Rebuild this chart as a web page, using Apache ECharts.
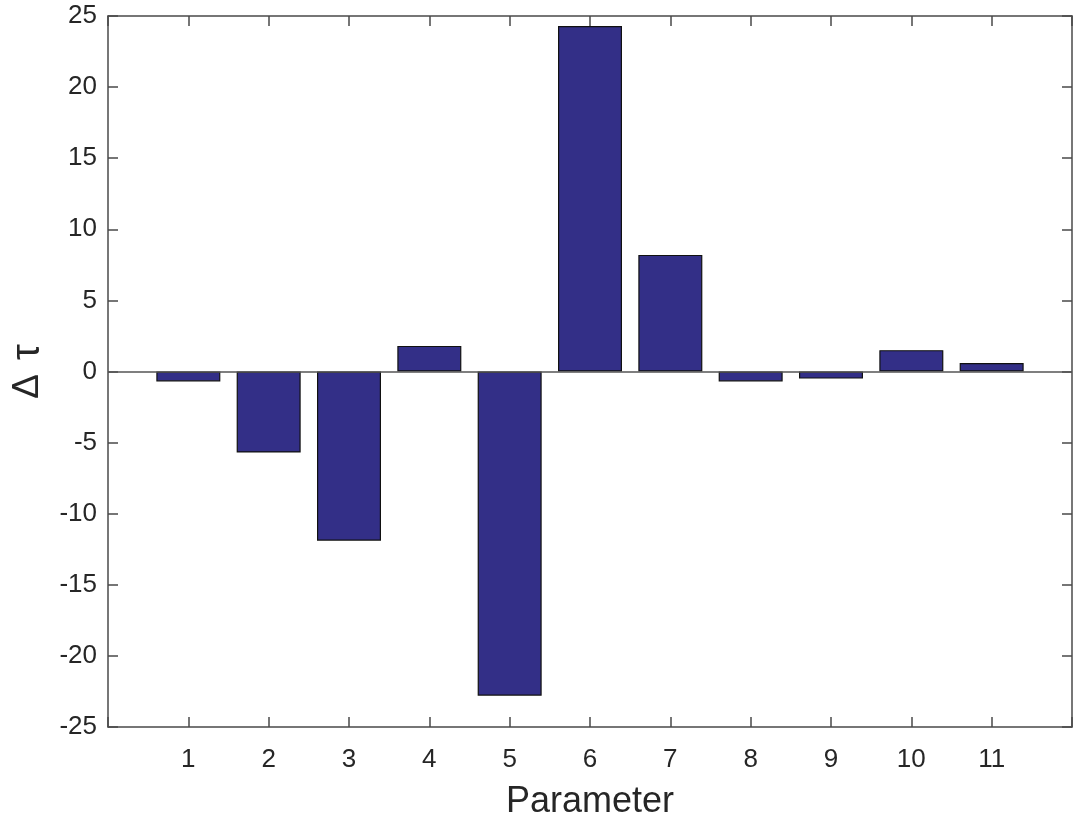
<!DOCTYPE html>
<html>
<head>
<meta charset="utf-8">
<script src="https://cdn.jsdelivr.net/npm/echarts@6/dist/echarts.min.js"></script>
<style>
  html, body { margin: 0; padding: 0; background: #fff; }
  #main { width: 1078px; height: 816px; }
</style>
</head>
<body>
<div id="main"></div>
<script>
// 参数编号和对应的 Δτ 值
var params = [1, 2, 3, 4, 5, 6, 7, 8, 9, 10, 11]
var deltaTau = [-0.7, -5.7, -11.9, 1.8, -22.8, 24.3, 8.2, -0.7, -0.5, 1.5, 0.6]
var yTicks = { min: -25, max: 25, step: 5 }

var font = 'Liberation Sans, Arial, Helvetica, sans-serif'
var ink = '#262626'
var frame = '#4a4a4a'

var barData = params.map(function (p, i) { return [p, deltaTau[i]] })

var chart = echarts.init(document.getElementById('main'))

var option = {
  backgroundColor: '#fff',
  animation: false,
  grid: {
    left: 108,
    right: 6,
    top: 16,
    bottom: 89,
    containLabel: false,
    outerBoundsMode: 'none'
  },
  xAxis: [{
    type: 'value',
    min: 0,
    max: params.length + 1,
    interval: 1,
    name: 'Parameter',
    nameLocation: 'middle',
    nameGap: 57,
    nameTextStyle: { fontFamily: font, fontSize: 36, color: ink },
    axisLine: { show: true, onZero: false, lineStyle: { color: frame, width: 1.5 } },
    axisTick: { show: true, inside: true, length: 10, lineStyle: { color: frame, width: 1.5 } },
    axisLabel: {
      margin: 20,
      fontFamily: font,
      fontSize: 26,
      color: ink,
      formatter: function (v) { return params.indexOf(v) >= 0 ? String(v) : '' }
    },
    splitLine: { show: false }
  }, {
    type: 'value',
    position: 'top',
    min: 0,
    max: params.length + 1,
    interval: 1,
    axisLine: { show: true, onZero: false, lineStyle: { color: frame, width: 1.5 } },
    axisTick: { show: true, inside: true, length: 10, lineStyle: { color: frame, width: 1.5 } },
    axisLabel: { show: false },
    splitLine: { show: false }
  }],
  yAxis: [{
    type: 'value',
    min: yTicks.min,
    max: yTicks.max,
    interval: yTicks.step,
    name: '{d|Δ}{t|τ}',
    nameLocation: 'middle',
    nameRotate: 90,
    nameGap: 60,
    nameTextStyle: {
      rich: {
        d: { fontFamily: font, fontSize: 37, color: ink, padding: [0, 14, 0, 0] },
        t: { fontFamily: font, fontSize: 40, color: ink }
      }
    },
    axisLine: { show: true, onZero: false, lineStyle: { color: frame, width: 1.5 } },
    axisTick: { show: true, inside: true, length: 10, lineStyle: { color: frame, width: 1.5 } },
    axisLabel: { margin: 11, fontFamily: font, fontSize: 26, color: ink },
    splitLine: { show: false }
  }, {
    type: 'value',
    position: 'right',
    min: yTicks.min,
    max: yTicks.max,
    interval: yTicks.step,
    axisLine: { show: true, onZero: false, lineStyle: { color: frame, width: 1.5 } },
    axisTick: { show: true, inside: true, length: 10, lineStyle: { color: frame, width: 1.5 } },
    axisLabel: { show: false },
    splitLine: { show: false }
  }],
  series: [{
    type: 'bar',
    xAxisIndex: 0,
    yAxisIndex: 0,
    data: barData,
    barWidth: 64,
    itemStyle: { color: '#332f87', borderColor: '#111', borderWidth: 1.2 },
    markLine: {
      silent: true,
      symbol: 'none',
      label: { show: false },
      lineStyle: { color: '#555', width: 1.5, type: 'solid' },
      data: [{ yAxis: 0 }]
    },
    z: 3
  }]
}

chart.setOption(option)
</script>
</body>
</html>
